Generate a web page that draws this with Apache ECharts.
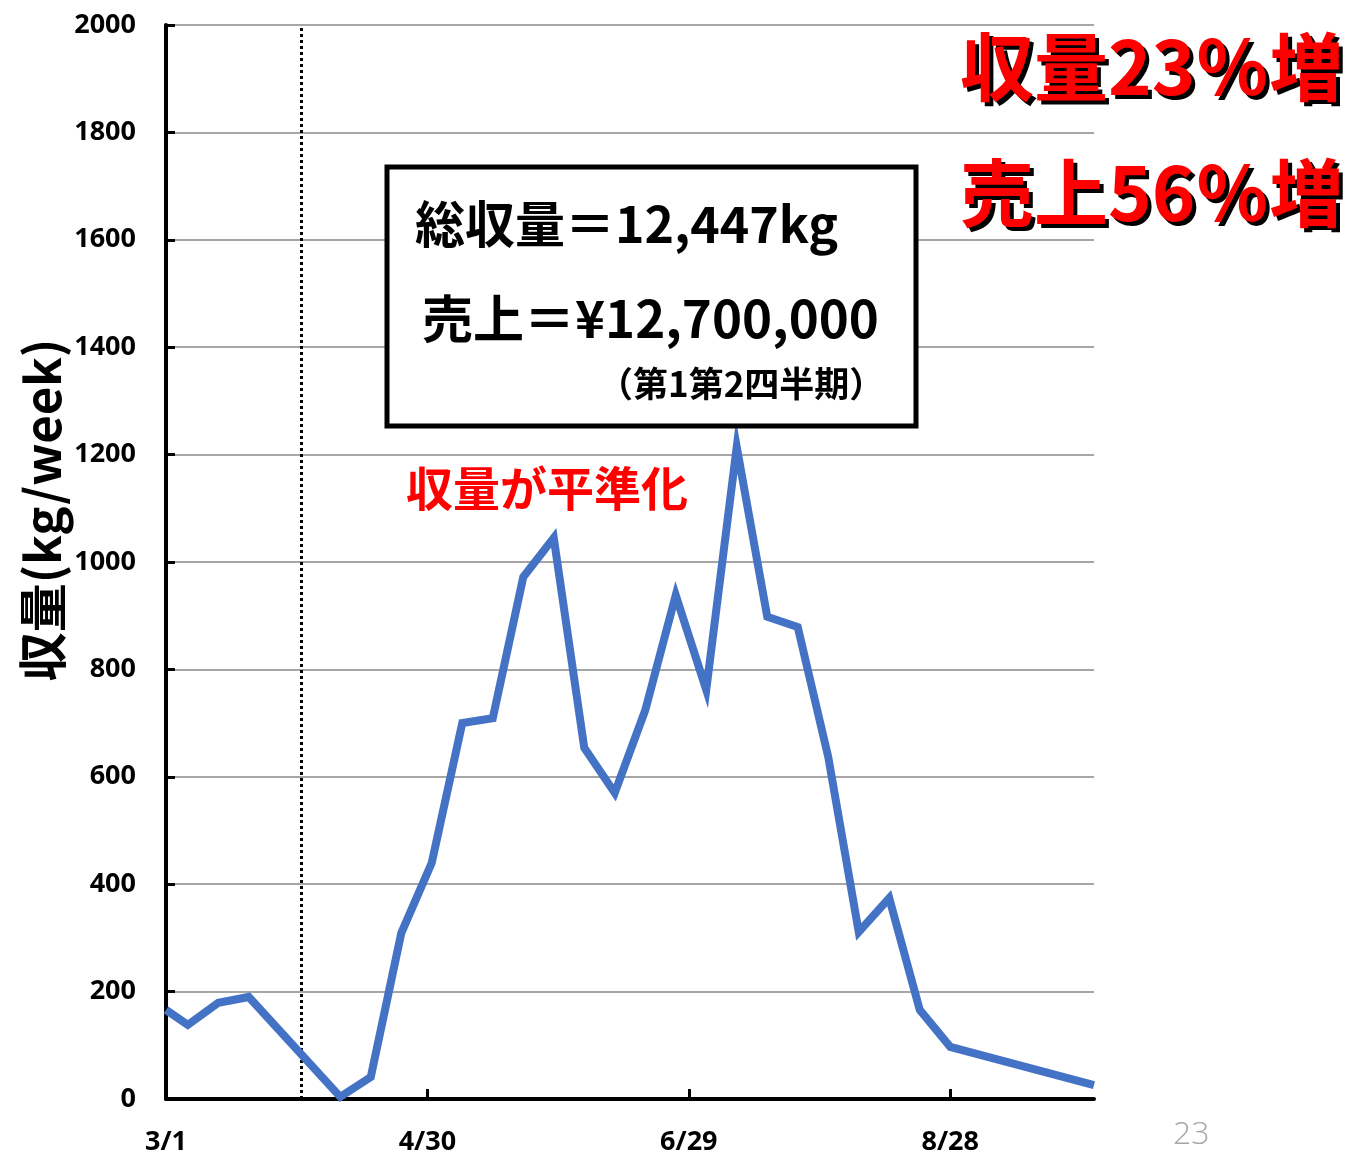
<!DOCTYPE html>
<html>
<head>
<meta charset="utf-8">
<script src="https://cdn.jsdelivr.net/npm/echarts@6/dist/echarts.min.js"></script>
<style>
  html, body { margin: 0; padding: 0; background: #ffffff; }
  #chart { width: 1350px; height: 1156px; }
</style>
</head>
<body>
<div id="chart"></div>
<script>
// Weekly harvest, days counted from 3/1
const days    = [0, 5, 12, 19, 40, 47, 54, 61, 68, 75, 82, 89, 96, 103, 110, 117, 124, 131, 138, 145, 152, 159, 166, 173, 180, 213];
const harvest = [166, 138, 179, 190, 4, 41, 309, 440, 700, 709, 972, 1045, 654, 570, 724, 938, 762, 1214, 898, 879, 637, 311, 374, 166, 97, 26];

// x-axis tick positions (days from 3/1) and their date labels
const tickDays   = [0, 60, 120, 180];
const tickLabels = ['3/1', '4/30', '6/29', '8/28'];
const quarterStartDay = 31; // 4/1

const CJK = '"Noto Sans CJK JP", "Noto Sans", sans-serif';
const NUM = '"Open Sans", "Liberation Sans", sans-serif';

const chart = echarts.init(document.getElementById('chart'));

const points = days.map((d, i) => [d, harvest[i]]);

// Red headline with a hard black drop shadow (shadow drawn as a second text underneath)
function shadowText(text, left, top, size) {
  return [
    { type: 'text', z: 11, left: left + 4, top: top + 4,
      style: { text: text, fill: '#000', font: 'bold ' + size + 'px ' + CJK } },
    { type: 'text', z: 12, left: left, top: top,
      style: { text: text, fill: '#ff0000', font: 'bold ' + size + 'px ' + CJK } }
  ];
}

chart.setOption({
  backgroundColor: '#ffffff',
  animation: false,
  grid: { left: 166, right: 256, top: 25, bottom: 57, containLabel: false, outerBoundsMode: 'none' },
  xAxis: {
    type: 'value',
    min: 0,
    max: 213,
    axisLine: { show: true, onZero: false, lineStyle: { color: '#000', width: 4 } },
    axisTick: {
      show: true, inside: true, length: 10,
      customValues: tickDays,
      lineStyle: { color: '#000', width: 3 }
    },
    axisLabel: {
      customValues: tickDays,
      formatter: v => tickLabels[tickDays.indexOf(v)] || '',
      color: '#000', fontFamily: NUM, fontWeight: 'bold', fontSize: 27, margin: 30
    },
    splitLine: { show: false }
  },
  yAxis: {
    type: 'value',
    min: 0,
    max: 2000,
    interval: 200,
    axisLine: { show: true, lineStyle: { color: '#000', width: 4 } },
    axisTick: { show: true, inside: true, length: 9, lineStyle: { color: '#000', width: 3 } },
    axisLabel: {
      formatter: v => String(v),
      color: '#000', fontFamily: NUM, fontWeight: 'bold', fontSize: 27, margin: 30
    },
    splitLine: { show: true, lineStyle: { color: '#a6a6a6', width: 2 } }
  },
  series: [{
    type: 'line',
    data: points,
    showSymbol: false,
    symbol: 'none',
    lineStyle: { color: '#4472C4', width: 8, join: 'miter' },
    z: 5,
    markLine: {
      silent: true,
      symbol: 'none',
      label: { show: false },
      lineStyle: { color: '#000', type: 'dotted', width: 3 },
      data: [{ xAxis: quarterStartDay }]
    }
  }],
  graphic: [
    // y-axis title, rotated to read bottom-to-top
    {
      type: 'text', z: 11, x: 42, y: 510, rotation: Math.PI / 2,
      style: {
        text: '収量(kg/week)', fill: '#000', font: 'bold 49px ' + CJK,
        align: 'center', verticalAlign: 'middle'
      }
    },
    {
      type: 'rect', z: 10,
      shape: { x: 387, y: 167, width: 529, height: 259 },
      style: { fill: '#ffffff', stroke: '#000', lineWidth: 5 }
    },
    {
      type: 'text', z: 11, left: 415, top: 199,
      style: { text: '総収量＝12,447kg', fill: '#000', font: 'bold 50px ' + CJK }
    },
    {
      type: 'text', z: 11, left: 422, top: 293,
      style: { text: '売上＝¥12,700,000', fill: '#000', font: 'bold 51px ' + CJK }
    },
    {
      type: 'text', z: 11, left: 598, top: 366,
      style: { text: '（第1第2四半期）', fill: '#000', font: 'bold 35px ' + CJK }
    },
    {
      type: 'text', z: 11, left: 406, top: 465,
      style: { text: '収量が平準化', fill: '#ff0000', font: 'bold 47px ' + CJK }
    }
  ]
  .concat(shadowText('収量23％増', 960, 30, 74))
  .concat(shadowText('売上56％増', 960, 156, 74))
  .concat([
    {
      type: 'text', z: 11, left: 1173, top: 1119,
      style: { text: '23', fill: '#a6a6a6', font: '300 32px ' + NUM }
    }
  ])
});
</script>
</body>
</html>
